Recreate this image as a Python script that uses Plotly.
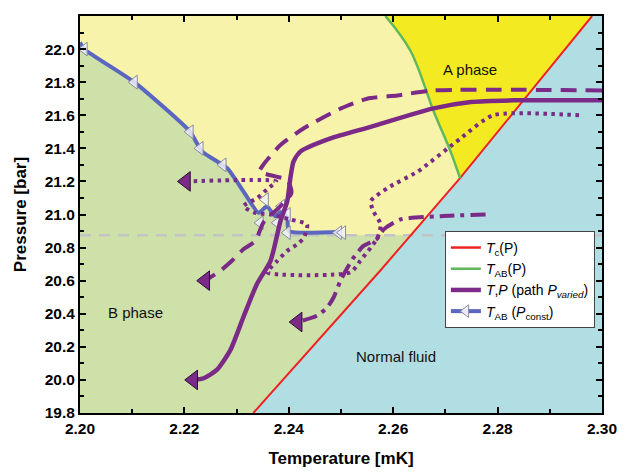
import plotly.graph_objects as go
import numpy as np

# ---------------- data ----------------
# Tc(P) line (red)
tc_T = [2.2332, 2.2575, 2.2728, 2.2981]
tc_P = [19.8, 20.66, 21.22, 22.2]

# T_AB(P) line (green)
tab_T = [2.2585, 2.2633, 2.2678, 2.2710, 2.2728]
tab_P = [22.2, 21.99, 21.62, 21.38, 21.22]

# T_AB (P_const) line (blue)
blue_T = [2.2000, 2.2008, 2.2104, 2.2211, 2.2234, 2.2282, 2.2313, 2.2342,
          2.2358, 2.2374, 2.2387, 2.2397, 2.2400, 2.2502]
blue_P = [22.04, 22.00, 21.80, 21.50, 21.38, 21.28, 21.14, 21.01,
          21.05, 20.99, 21.02, 20.98, 20.90, 20.895]

# T_AB (P_const) markers
mk_T = [2.2008, 2.2104, 2.2211, 2.2230, 2.2274, 2.2355, 2.2345, 2.2386,
        2.2378, 2.2397, 2.2397, 2.2495, 2.2503]
mk_P = [22.00, 21.80, 21.50, 21.40, 21.30, 21.09, 20.95, 21.05,
        20.95, 21.00, 20.89, 20.89, 20.89]

# horizontal grey reference pressure
ref_P = 20.875
ref_T = [2.20, 2.30]

# T,P paths (P varied)
solid_T = [2.3000, 2.2831, 2.2749, 2.2675, 2.2557, 2.2480, 2.2422, 2.2409,
           2.2403, 2.2397, 2.2384, 2.2365, 2.2339, 2.2313, 2.2288, 2.2262,
           2.2237, 2.2217]
solid_P = [21.69, 21.69, 21.68, 21.64, 21.53, 21.46, 21.38, 21.32,
           21.22, 21.08, 20.96, 20.72, 20.58, 20.38, 20.18, 20.06,
           20.01, 20.00]

dashed_T = [2.3000, 2.2678, 2.2608, 2.2550, 2.2499, 2.2428, 2.2384, 2.2351,
            2.2344, 2.2374, 2.2397, 2.2405, 2.2384, 2.2351, 2.2336, 2.2313,
            2.2291, 2.2269, 2.2240]
dashed_P = [21.75, 21.75, 21.72, 21.70, 21.64, 21.52, 21.42, 21.30,
            21.26, 21.23, 21.21, 21.13, 21.05, 20.95, 20.84, 20.79,
            20.72, 20.66, 20.60]

dotted_T = [2.2956, 2.2791, 2.2729, 2.2647, 2.2589, 2.2557, 2.2562, 2.2576,
            2.2570, 2.2557, 2.2537, 2.2518, 2.2359, 2.2378, 2.2397, 2.2416,
            2.2429, 2.2435, 2.2403, 2.2365, 2.2336, 2.2313, 2.2340, 2.2361,
            2.2376, 2.2203]
dotted_P = [21.60, 21.60, 21.46, 21.26, 21.16, 21.08, 21.02, 20.94,
            20.86, 20.80, 20.72, 20.65, 20.65, 20.72, 20.78, 20.82,
            20.86, 20.94, 20.97, 21.00, 21.01, 21.05, 21.10, 21.16,
            21.20, 21.20]

dashdot_T = [2.2777, 2.2691, 2.2614, 2.2582, 2.2568, 2.2543, 2.2522, 2.2499,
             2.2486, 2.2474, 2.2455, 2.2417]
dashdot_P = [21.00, 20.99, 20.97, 20.91, 20.85, 20.81, 20.73, 20.60,
             20.50, 20.44, 20.39, 20.35]

x_range = [2.20, 2.30]
y_range = [19.8, 22.2]

# ---------------- styles ----------------
C_BG = "#f8f3ab"
C_A = "#f4ea22"
C_B = "#cde1a8"
C_N = "#b1dee3"
C_RED = "#ee2222"
C_GREEN = "#5fb95a"
C_BLUE = "#5a66c0"
C_PURPLE = "#7b2a88"
FONT = "Liberation Sans, Arial, sans-serif"

fig = go.Figure()

# region polygons
# Normal fluid
nT = list(tc_T) + [x_range[1], x_range[1]]
nP = list(tc_P) + [y_range[1], y_range[0]]
fig.add_trace(go.Scatter(x=nT, y=nP, fill="toself", fillcolor=C_N, mode="lines",
                         line=dict(width=0), hoverinfo="skip", showlegend=False))

# A phase
a_T = list(tab_T) + [t for t, p in zip(tc_T, tc_P) if p > tab_P[-1]]
a_P = list(tab_P) + [p for p in tc_P if p > tab_P[-1]]
fig.add_trace(go.Scatter(x=a_T, y=a_P, fill="toself", fillcolor=C_A, mode="lines",
                         line=dict(width=0), hoverinfo="skip", showlegend=False))

# B phase
t_cross = float(np.interp(ref_P, tc_P, tc_T))
b_T = [x_range[0]] + list(blue_T) + [blue_T[-1], t_cross] + \
      [t for t, p in zip(tc_T, tc_P) if p < ref_P][::-1]
b_P = [y_range[0]] + list(blue_P) + [ref_P, ref_P] + \
      [p for p in tc_P if p < ref_P][::-1]
fig.add_trace(go.Scatter(x=b_T, y=b_P, fill="toself", fillcolor=C_B, mode="lines",
                         line=dict(width=0), hoverinfo="skip", showlegend=False))

# grey reference dashed line
fig.add_trace(go.Scatter(x=ref_T, y=[ref_P, ref_P], mode="lines",
                         line=dict(color="#c4c4c4", width=2.5, dash="11px,8px"),
                         hoverinfo="skip", showlegend=False))

# Tc and TAB lines
fig.add_trace(go.Scatter(x=tc_T, y=tc_P, mode="lines",
                         line=dict(color=C_RED, width=2), showlegend=False))
fig.add_trace(go.Scatter(x=tab_T, y=tab_P, mode="lines",
                         line=dict(color=C_GREEN, width=2.5, shape="spline"),
                         showlegend=False))

# blue T_AB(P_const)
fig.add_trace(go.Scatter(x=blue_T, y=blue_P, mode="lines",
                         line=dict(color=C_BLUE, width=4, shape="spline", smoothing=0.5),
                         showlegend=False))
fig.add_trace(go.Scatter(x=mk_T, y=mk_P, mode="markers",
                         marker=dict(symbol="triangle-left", size=12,
                                     color="rgba(240,240,252,0.85)",
                                     line=dict(color="#8a8a9a", width=1)),
                         showlegend=False))

# purple paths
paths = [
    (solid_T, solid_P, "solid", 4.5),
    (dashed_T, dashed_P, "16px,9px", 4),
    (dotted_T, dotted_P, "3.5px,4.5px", 4),
    (dashdot_T, dashdot_P, "15px,6px,4px,6px", 4),
]
for T, P, dash, w in paths:
    fig.add_trace(go.Scatter(x=T, y=P, mode="lines",
                             line=dict(color=C_PURPLE, width=w, dash=dash,
                                       shape="spline", smoothing=0.6),
                             showlegend=False))

# arrow heads at the path ends
fig.add_trace(go.Scatter(x=[p[0][-1] for p in paths], y=[p[1][-1] for p in paths],
                         mode="markers",
                         marker=dict(symbol="triangle-left", size=17, color=C_PURPLE,
                                     line=dict(color="#2a0e30", width=1)),
                         showlegend=False))

# legend entries
fig.add_trace(go.Scatter(x=[None], y=[None], mode="lines",
                         line=dict(color=C_RED, width=2.5),
                         name="<i>T</i><sub>c</sub>(P)"))
fig.add_trace(go.Scatter(x=[None], y=[None], mode="lines",
                         line=dict(color=C_GREEN, width=2.5),
                         name="<i>T</i><sub>AB</sub>(P)"))
fig.add_trace(go.Scatter(x=[None], y=[None], mode="lines",
                         line=dict(color=C_PURPLE, width=4.5),
                         name="<i>T</i>,<i>P</i> (path <i>P</i><sub><i>varied</i></sub>)"))
fig.add_trace(go.Scatter(x=[None], y=[None], mode="lines+markers",
                         line=dict(color=C_BLUE, width=4),
                         marker=dict(symbol="triangle-left", size=11,
                                     color="rgba(240,240,252,0.95)",
                                     line=dict(color="#8a8a9a", width=1)),
                         name="<i>T</i><sub>AB</sub> (<i>P</i><sub>const</sub>)"))

# region labels
for txt, tx, ty in [("A phase", 2.2747, 21.875), ("B phase", 2.2106, 20.41),
                    ("Normal fluid", 2.2605, 20.14)]:
    fig.add_annotation(x=tx, y=ty, text=txt, showarrow=False,
                       font=dict(family=FONT, size=15, color="#111"))

axis_common = dict(
    showgrid=False, zeroline=False, showline=True, linewidth=2, linecolor="black",
    mirror="ticks", ticks="inside", ticklen=6, tickwidth=2, tickcolor="black",
    tickfont=dict(family=FONT, size=15.5, color="black", weight="bold"),
)
fig.update_xaxes(range=x_range, tick0=2.20, dtick=0.02, tickformat=".2f",
                 minor=dict(dtick=0.01, ticks="inside", ticklen=4, tickwidth=2,
                            tickcolor="black"),
                 title=dict(text="Temperature [mK]", standoff=17,
                            font=dict(family=FONT, size=17, color="black", weight="bold")),
                 **axis_common)
fig.update_yaxes(range=y_range, tick0=19.8, dtick=0.2, tickformat=".1f",
                 minor=dict(dtick=0.1, ticks="inside", ticklen=4, tickwidth=2,
                            tickcolor="black"),
                 title=dict(text="Pressure [bar]", standoff=14,
                            font=dict(family=FONT, size=17, color="black", weight="bold")),
                 **axis_common)

# page body adds an 8px offset, so the figure is sized to fit the 627x472 window
fig.update_layout(
    width=619, height=464,
    margin=dict(l=72, r=25, t=6, b=59),
    plot_bgcolor=C_BG, paper_bgcolor="white",
    font=dict(family=FONT, color="black"),
    legend=dict(x=0.699, y=0.4586, xanchor="left", yanchor="top",
                bgcolor="white", bordercolor="#444", borderwidth=1,
                font=dict(family=FONT, size=14, color="black")),
)

fig.write_html("out.html")
